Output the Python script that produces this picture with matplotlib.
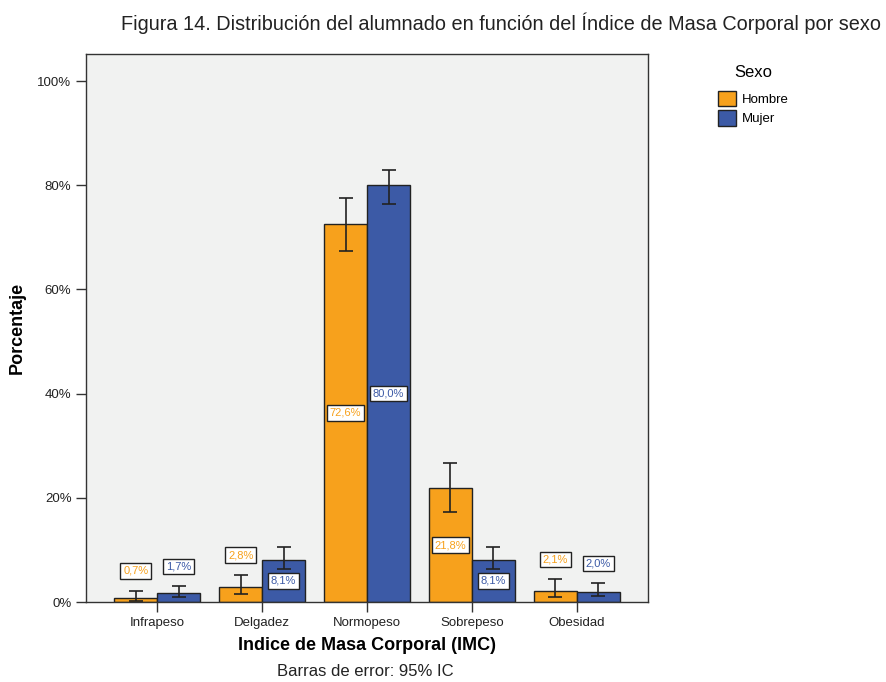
import numpy as np
import matplotlib
matplotlib.use("Agg")
import matplotlib.pyplot as plt
from matplotlib.patches import Patch

categories = ["Infrapeso", "Delgadez", "Normopeso", "Sobrepeso", "Obesidad"]
hombre = [0.7, 2.8, 72.6, 21.8, 2.1]
mujer = [1.7, 8.1, 80.0, 8.1, 2.0]
hombre_lo = [0.25, 1.5, 67.3, 17.3, 0.9]
hombre_hi = [2.2, 5.2, 77.5, 26.7, 4.4]
mujer_lo = [1.0, 6.3, 76.5, 6.3, 1.2]
mujer_hi = [3.0, 10.6, 82.9, 10.6, 3.6]
yticks = [0, 20, 40, 60, 80, 100]

ORANGE = "#F7A11C"
BLUE = "#3C5AA6"
plt.rcParams["font.family"] = ["Liberation Sans", "DejaVu Sans"]


def main():
    fig = plt.figure(figsize=(8.86, 6.82), dpi=100)
    ax = fig.add_axes([0.0971, 0.1173, 0.6343, 0.8035])
    ax.set_facecolor("#F1F2F1")

    x = np.arange(len(categories))
    w = 0.41
    series = [
        (hombre, hombre_lo, hombre_hi, ORANGE, -w / 2),
        (mujer, mujer_lo, mujer_hi, BLUE, w / 2),
    ]
    for vals, lo, hi, color, off in series:
        vals = np.array(vals)
        lo = np.array(lo)
        hi = np.array(hi)
        ax.bar(x + off, vals, width=w, color=color, edgecolor="#222222",
               linewidth=1.0, zorder=2)
        ax.errorbar(x + off, vals, yerr=[vals - lo, hi - vals], fmt="none",
                    ecolor="#222222", elinewidth=1.2, capsize=5, capthick=1.2,
                    zorder=3)
        for xi, v, h in zip(x + off, vals, hi):
            if v >= 8:
                ly = v / 2
            else:
                ly = h + 3.8
            ax.text(xi, ly, f"{v:.1f}%".replace(".", ","), ha="center",
                    va="center", color=color, fontsize=8, zorder=4,
                    bbox=dict(boxstyle="square,pad=0.25", facecolor="white",
                              edgecolor="#222222", linewidth=1.0))

    ax.set_xlim(-0.68, 4.68)
    ax.set_ylim(0, 105.2)
    ax.set_xticks(x)
    ax.set_xticklabels(categories, fontsize=9.5)
    ax.set_yticks(yticks)
    ax.set_yticklabels([f"{t}%" for t in yticks], fontsize=9.5)
    ax.tick_params(axis="both", length=7, width=1.0, color="#333333",
                   labelcolor="#222222")
    for s in ax.spines.values():
        s.set_color("#333333")
        s.set_linewidth(1.0)

    ax.set_ylabel("Porcentaje", fontsize=13, fontweight="bold")
    ax.yaxis.set_label_coords(-0.108, 0.5)
    ax.set_xlabel("Indice de Masa Corporal (IMC)", fontsize=13,
                  fontweight="bold", labelpad=6)
    fig.text(0.412, 0.0147, "Barras de error: 95% IC", ha="center",
             va="center", fontsize=12, color="#222222")

    title = fig.text(0.566, 0.966, "Figura 14. Distribución del alumnado en "
                     "función del Índice de Masa Corporal por sexo",
                     ha="center", va="center", fontsize=14, color="#222222")
    # shrink the title to the width it takes in the source figure
    fig.canvas.draw()
    tw = title.get_window_extent().width
    title.set_fontsize(14 * 762 / tw)

    handles = [Patch(facecolor=ORANGE, edgecolor="#222222", label="Hombre"),
               Patch(facecolor=BLUE, edgecolor="#222222", label="Mujer")]
    leg = fig.legend(handles=handles, title="Sexo", loc="upper left",
                     bbox_to_anchor=(0.797, 0.922), frameon=False,
                     fontsize=9.5, title_fontsize=12, handlelength=1.4,
                     handleheight=1.4, handletextpad=0.4, labelspacing=0.3)
    leg._legend_box.align = "center"
    leg._legend_box.sep = 8

    fig.savefig("out.png", dpi=100)


if __name__ == "__main__":
    main()
